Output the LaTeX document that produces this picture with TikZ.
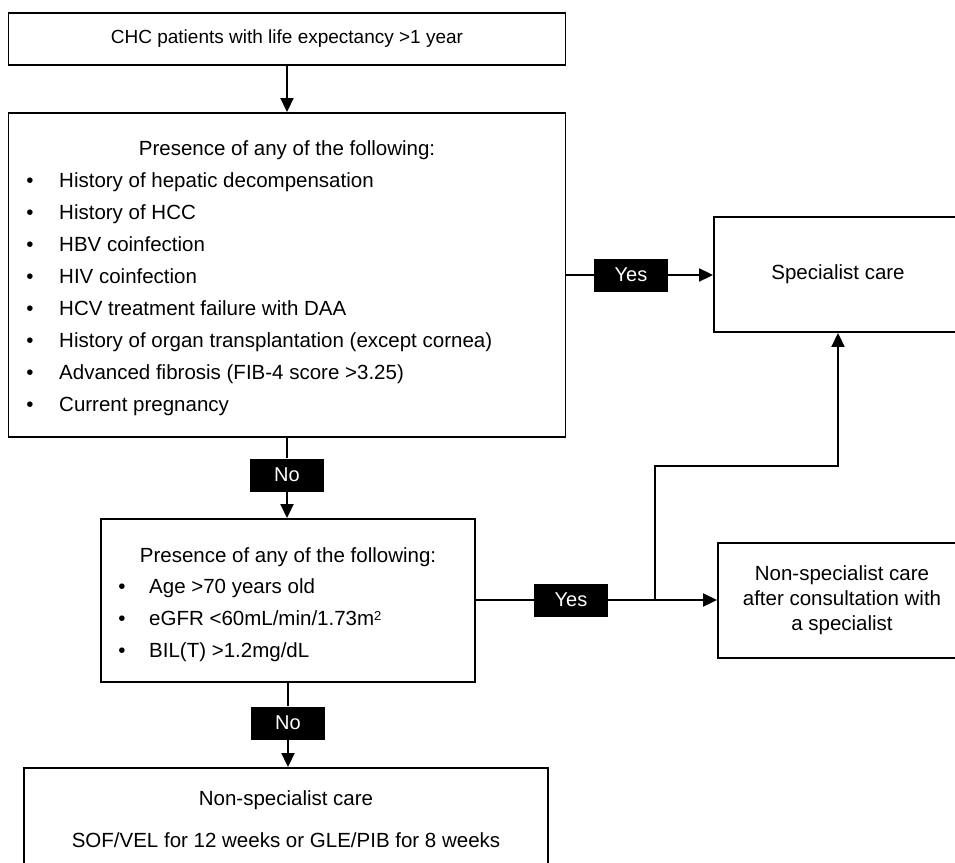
\documentclass[tikz,border=0pt]{standalone}
\usepackage{fontspec}
\setmainfont{Liberation Sans}
\usetikzlibrary{arrows.meta,positioning}

\begin{document}
\begin{tikzpicture}[x=1pt,y=-1pt,
	box/.style={draw, line width=1.9pt, rectangle, inner sep=0pt,
		font=\fontsize{20.5}{25}\selectfont},
	lbl/.style={fill=black, text=white, minimum width=74pt,
		minimum height=33pt, inner sep=0pt, font=\fontsize{20}{24}\selectfont},
	itm/.style={inner sep=0pt, text height=14pt, text depth=0pt,
		font=\fontsize{20.5}{25}\selectfont},
	link/.style={line width=1.9pt},
	arr/.style={line width=1.9pt, -{Triangle[length=14pt,width=13pt]}}]
	\useasboundingbox (0,0) rectangle (955,862);
	\clip (0,0) rectangle (955,862);
	% boxes
	\node [box, minimum width=557pt, minimum height=52pt,
		font=\fontsize{19}{23}\selectfont] (top) at (287,39)
		{CHC patients with life expectancy >1 year};
	\node [box, minimum width=557pt, minimum height=324pt] (crit1) at (287,275) {};
	\node [box, minimum width=374pt, minimum height=163pt] (crit2) at (288,600.5) {};
	\node [box, minimum width=248pt, minimum height=115pt] (spec) at (838,274.5)
		{Specialist care};
	\node [box, minimum width=248pt, minimum height=115pt, align=center] (consult) at (842,600.5)
		{Non-specialist care\\after consultation with\\a specialist};
	\node [box, minimum width=524pt, minimum height=102pt, align=center,
		font=\fontsize{20.5}{42}\selectfont] (final) at (286,819)
		{Non-specialist care\\SOF/VEL for 12 weeks or GLE/PIB for 8 weeks};
	% first list
	\node [itm] (head1) at (287,148) {Presence of any of the following:};
	\foreach \t [count=\i] in {{History of hepatic decompensation}, {History of HCC},
		{HBV coinfection}, {HIV coinfection}, {HCV treatment failure with DAA},
		{History of organ transplantation (except cornea)},
		{Advanced fibrosis (FIB-4 score >3.25)}, {Current pregnancy}} {
		\node [itm] (dot1\i) at (30,{148+32*\i}) {\textbullet};
		\node [itm, anchor=west] (line1\i) at (59,{148+32*\i}) {\t};
	}
	% second list
	\node [itm] (head2) at (288,555) {Presence of any of the following:};
	\foreach \t [count=\i] in {{Age >70 years old},
		{eGFR <60mL/min/1.73m\raisebox{5pt}{\fontsize{13}{13}\selectfont 2}}, {BIL(T) >1.2mg/dL}} {
		\node [itm] (dot2\i) at (122,{555+31.7*\i}) {\textbullet};
		\node [itm, anchor=west] (line2\i) at (149,{555+31.7*\i}) {\t};
	}
	% yes / no labels
	\node [lbl] (yes1) at (631,275) {Yes};
	\node [lbl] (no1) at (287,475) {No};
	\node [lbl] (yes2) at (571,600) {Yes};
	\node [lbl] (no2) at (288,723) {No};
	\coordinate (split) at (655,600);
	\coordinate (bend) at (655,466);
	% connectors
	\draw [arr] (top) -- (crit1);
	\draw [link] (crit1) -- (no1);
	\draw [arr] (no1) -- (crit2.north -| no1);
	\draw [link] (crit1.east |- yes1) -- (yes1);
	\draw [arr] (yes1) -- (yes1 -| spec.west);
	\draw [link] (crit2.east |- yes2) -- (yes2);
	\draw [arr] (yes2) -- (yes2 -| consult.west);
	\draw [arr] (split) -- (bend) -| (spec.south);
	\draw [link] (crit2.south -| no2) -- (no2);
	\draw [arr] (no2) -- (final.north -| no2);
\end{tikzpicture}
\end{document}
